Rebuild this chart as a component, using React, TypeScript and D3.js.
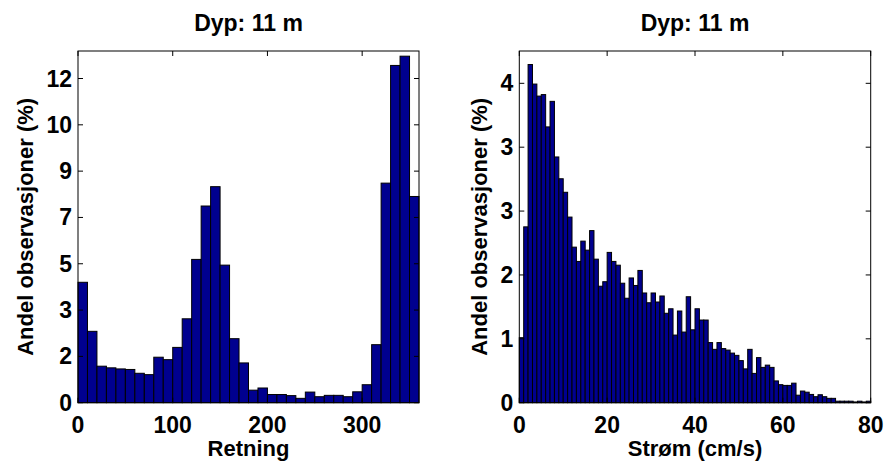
import React from "react";
import * as d3 from "d3";

// Left panel: direction histogram (10° bins, 0..360)
const dirBinEdgesStart = [0,10,20,30,40,50,60,70,80,90,100,110,120,130,140,150,160,170,180,190,200,210,220,230,240,250,260,270,280,290,300,310,320,330,340,350];
const dirValues = [4.42,2.62,1.34,1.28,1.24,1.22,1.08,1.03,1.67,1.58,2.03,3.08,5.26,7.22,7.93,5.05,2.35,1.46,0.46,0.54,0.30,0.30,0.26,0.16,0.39,0.22,0.27,0.27,0.22,0.40,0.66,2.13,8.06,12.38,12.72,7.57];
const dirXTicks = [0, 100, 200, 300];
const dirYTicks = [0, 1.7, 3.4, 5.1, 6.8, 8.5, 10.2, 11.9];
const dirYTickLabels = ["0", "2", "3", "5", "7", "9", "10", "12"];

// Right panel: speed histogram (1 cm/s bins, 0..80)
const speedBinStart = Array.from({ length: 80 }, (_, i) => i);
const speedValues = [
  0.865,2.34,4.50,4.24,4.08,4.10,3.67,4.01,3.27,2.98,
  2.80,2.47,2.07,1.88,2.15,2.03,2.29,1.91,1.55,1.61,
  2.00,1.88,1.83,1.59,1.39,1.66,1.56,1.76,1.46,1.33,
  1.46,1.34,1.42,1.19,1.25,0.90,1.22,0.94,1.41,0.97,
  1.25,1.10,1.10,0.80,0.71,0.80,0.72,0.70,0.66,0.63,
  0.56,0.45,0.71,0.39,0.60,0.47,0.50,0.47,0.29,0.24,
  0.23,0.23,0.26,0.10,0.155,0.14,0.11,0.08,0.106,0.08,
  0.058,0.058,0.02,0.02,0.02,0.02,0.01,0.02,0.01,0.02
];
const speedXTicks = [0, 20, 40, 60, 80];
const speedYTicks = [0, 0.85, 1.7, 2.55, 3.4, 4.25];
const speedYTickLabels = ["0", "1", "2", "3", "3", "4"];

const titleText = "Dyp: 11 m";
const yLabelText = "Andel observasjoner (%)";
const leftXLabel = "Retning";
const rightXLabel = "Strøm (cm/s)";

const FONT = "'Liberation Sans', Arial, Helvetica, sans-serif";
const BAR_FILL = "#00008f";

type PanelProps = {
  x0: number; x1: number; y0: number; y1: number;
  xDomain: [number, number]; yDomain: [number, number];
  binStart: number[]; binWidth: number; values: number[];
  xTicks: number[]; yTicks: number[]; yTickLabels: string[];
  xLabel: string; yLabelX: number;
};

function Panel(p: PanelProps) {
  const xs = d3.scaleLinear().domain(p.xDomain).range([p.x0, p.x1]);
  const ys = d3.scaleLinear().domain(p.yDomain).range([p.y0, p.y1]);
  const tl = 5;
  const cx = (p.x0 + p.x1) / 2;
  const cy = (p.y0 + p.y1) / 2;
  return (
    <g>
      <text x={cx} y={31} textAnchor="middle" fontFamily={FONT} fontWeight="bold" fontSize={23}>{titleText}</text>
      {p.values.map((v, i) => (
        <rect key={i}
          x={xs(p.binStart[i])}
          y={ys(v)}
          width={xs(p.binStart[i] + p.binWidth) - xs(p.binStart[i])}
          height={ys(0) - ys(v)}
          fill={BAR_FILL} stroke="#000" strokeWidth={1} />
      ))}
      <rect x={p.x0} y={p.y1} width={p.x1 - p.x0} height={p.y0 - p.y1} fill="none" stroke="#000" strokeWidth={1} />
      {p.xTicks.map((t, i) => (
        <g key={"xt" + i}>
          <line x1={xs(t)} x2={xs(t)} y1={p.y0} y2={p.y0 - tl} stroke="#000" />
          <line x1={xs(t)} x2={xs(t)} y1={p.y1} y2={p.y1 + tl} stroke="#000" />
          <text x={xs(t)} y={433} textAnchor="middle" fontFamily={FONT} fontWeight="bold" fontSize={23}>{String(t)}</text>
        </g>
      ))}
      {p.yTicks.map((t, i) => (
        <g key={"yt" + i}>
          <line x1={p.x0} x2={p.x0 + tl} y1={ys(t)} y2={ys(t)} stroke="#000" />
          <line x1={p.x1} x2={p.x1 - tl} y1={ys(t)} y2={ys(t)} stroke="#000" />
          <text x={p.x0 - 6} y={ys(t) + 8} textAnchor="end" fontFamily={FONT} fontWeight="bold" fontSize={23}>{p.yTickLabels[i]}</text>
        </g>
      ))}
      <text x={cx} y={456} textAnchor="middle" fontFamily={FONT} fontWeight="bold" fontSize={22}>{p.xLabel}</text>
      <text transform={`translate(${p.yLabelX},${cy}) rotate(-90)`} textAnchor="middle" fontFamily={FONT} fontWeight="bold" fontSize={22}>{yLabelText}</text>
    </g>
  );
}

export default function App() {
  return (
    <svg width={888} height={462} style={{ position: "absolute", left: 0, top: 0, background: "#fff" }}>
      <rect x={0} y={0} width={888} height={462} fill="#fff" />
      <Panel x0={78} x1={419} y0={402.7} y1={51}
        xDomain={[0, 360]} yDomain={[0, 12.91]}
        binStart={dirBinEdgesStart} binWidth={10} values={dirValues}
        xTicks={dirXTicks} yTicks={dirYTicks} yTickLabels={dirYTickLabels}
        xLabel={leftXLabel} yLabelX={33} />
      <Panel x0={519.3} x1={870.7} y0={402.7} y1={51}
        xDomain={[0, 80]} yDomain={[0, 4.68]}
        binStart={speedBinStart} binWidth={1} values={speedValues}
        xTicks={speedXTicks} yTicks={speedYTicks} yTickLabels={speedYTickLabels}
        xLabel={rightXLabel} yLabelX={487} />
    </svg>
  );
}
